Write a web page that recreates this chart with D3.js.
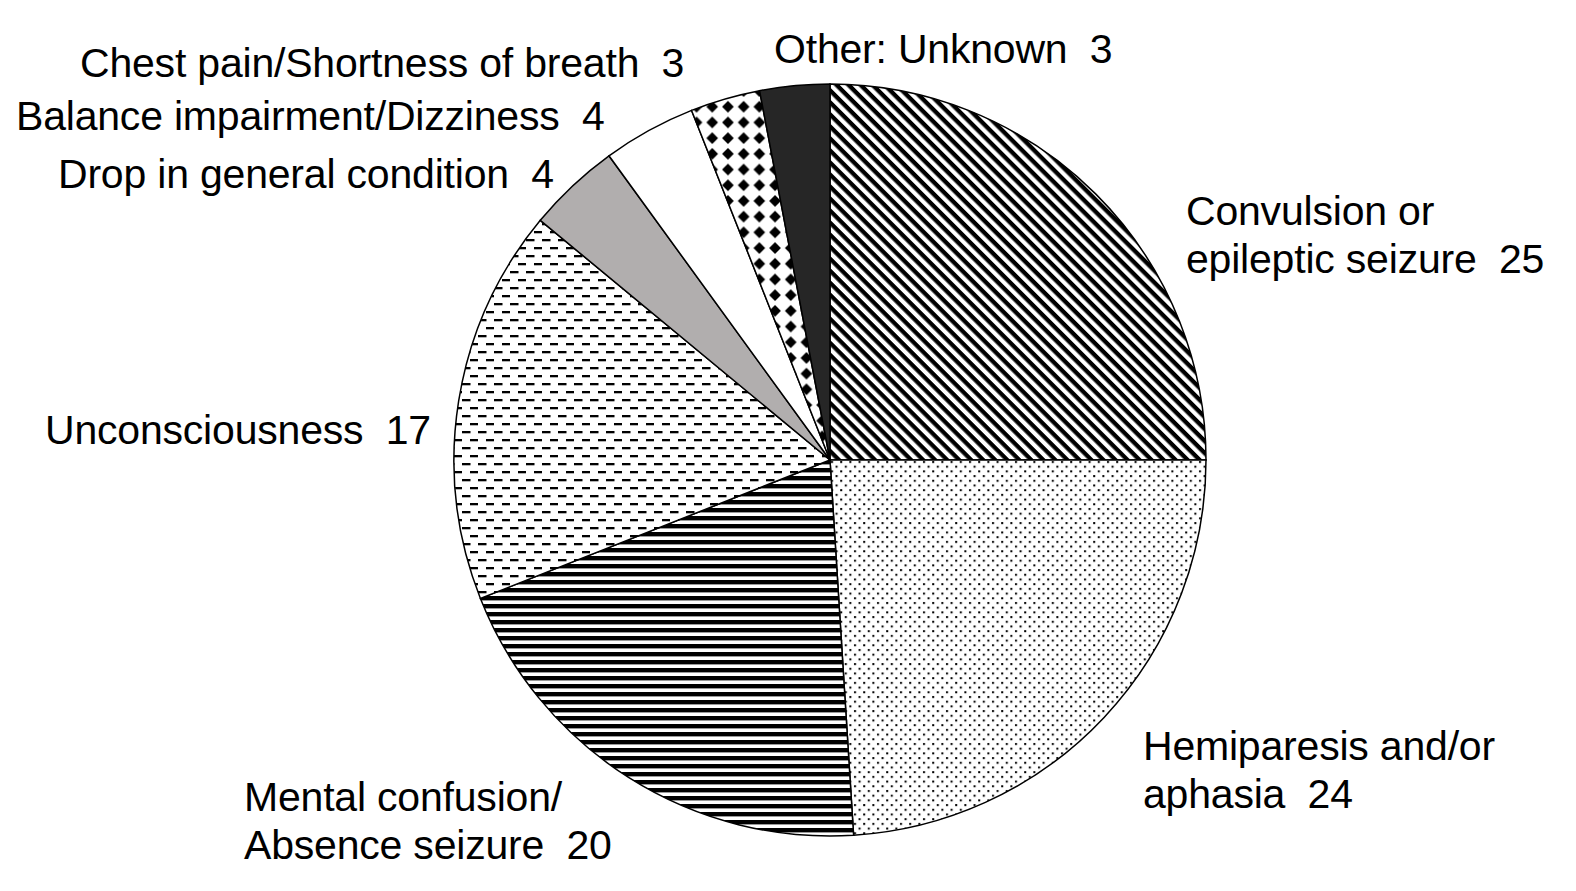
<!DOCTYPE html>
<html>
<head>
<meta charset="utf-8">
<script src="https://cdn.jsdelivr.net/npm/d3@7"></script>
<style>
  body { margin: 0; background: #fff; }
  svg text { font-family: "Liberation Sans", Arial, Helvetica, sans-serif; font-size: 41px; fill: #000; letter-spacing: -0.2px; }
</style>
</head>
<body>
<svg id="chart" width="1576" height="891"></svg>
<script>
// slices, clockwise from 12 o'clock
const categories = [
  ["Convulsion or", "epileptic seizure"],
  ["Hemiparesis and/or", "aphasia"],
  ["Mental confusion/", "Absence seizure"],
  ["Unconsciousness"],
  ["Drop in general condition"],
  ["Balance impairment/Dizziness"],
  ["Chest pain/Shortness of breath"],
  ["Other: Unknown"]
];
const values = [25, 24, 20, 17, 4, 4, 3, 3];
const fills = ["url(#diag)", "url(#dots)", "url(#hstripe)", "url(#dash)", "#b1aeae", "#ffffff", "url(#diamond)", "#262626"];

// label anchor (x, first baseline) for each slice
const labelPos = [
  [1186, 225], [1143, 760], [244, 811], [45, 444],
  [58, 188], [16, 130], [80, 77], [774, 63]
];

const cx = 830, cy = 460, r = 376;
const svg = d3.select("#chart");
const defs = svg.append("defs");

// diagonal stripes
const diag = defs.append("pattern").attr("id", "diag")
  .attr("patternUnits", "userSpaceOnUse").attr("width", 8.5).attr("height", 8.5)
  .attr("patternTransform", "rotate(45)");
diag.append("rect").attr("width", 8.5).attr("height", 8.5).attr("fill", "#fff");
diag.append("rect").attr("width", 8.5).attr("height", 4.3).attr("fill", "#000");

// dots
const dots = defs.append("pattern").attr("id", "dots")
  .attr("patternUnits", "userSpaceOnUse").attr("width", 9.2).attr("height", 9.4);
dots.append("rect").attr("width", 9.2).attr("height", 9.4).attr("fill", "#fff");
dots.append("rect").attr("x", 1).attr("y", 1).attr("width", 2).attr("height", 2).attr("fill", "#000");
dots.append("rect").attr("x", 5.6).attr("y", 5.7).attr("width", 2).attr("height", 2).attr("fill", "#000");

// horizontal stripes
const hs = defs.append("pattern").attr("id", "hstripe")
  .attr("patternUnits", "userSpaceOnUse").attr("width", 8).attr("height", 8);
hs.append("rect").attr("width", 8).attr("height", 8).attr("fill", "#fff");
hs.append("rect").attr("width", 8).attr("height", 4.4).attr("fill", "#000");

// dashes
const dash = defs.append("pattern").attr("id", "dash")
  .attr("patternUnits", "userSpaceOnUse").attr("width", 16).attr("height", 16);
dash.append("rect").attr("width", 16).attr("height", 16).attr("fill", "#fff");
dash.append("rect").attr("x", 0).attr("y", 3).attr("width", 8.5).attr("height", 2.3).attr("fill", "#000");
dash.append("rect").attr("x", 8).attr("y", 11).attr("width", 8.5).attr("height", 2.3).attr("fill", "#000");

// diamonds
const dia = defs.append("pattern").attr("id", "diamond")
  .attr("patternUnits", "userSpaceOnUse").attr("width", 15.7).attr("height", 15.7);
dia.append("rect").attr("width", 15.7).attr("height", 15.7).attr("fill", "#fff");
dia.append("path").attr("d", "M7.85,2 L13.7,7.85 L7.85,13.7 L2,7.85Z").attr("fill", "#000");

const pie = d3.pie().sort(null).value(d => d);
const arc = d3.arc().innerRadius(0).outerRadius(r);

const g = svg.append("g").attr("transform", `translate(${cx},${cy})`);
g.selectAll("path.slice")
  .data(pie(values))
  .enter()
  .append("path")
  .classed("slice", true)
  .attr("d", arc)
  .attr("fill", (d, i) => fills[i])
  .attr("stroke", "#000")
  .attr("stroke-width", 1.5);

const labels = svg.selectAll("text.label")
  .data(categories)
  .enter()
  .append("text")
  .classed("label", true)
  .attr("xml:space", "preserve")
  .attr("x", (d, i) => labelPos[i][0])
  .attr("y", (d, i) => labelPos[i][1]);

labels.each(function (lines, i) {
  const t = d3.select(this);
  lines.forEach((line, j) => {
    const last = j === lines.length - 1;
    t.append("tspan")
      .attr("x", labelPos[i][0])
      .attr("dy", j === 0 ? 0 : 48)
      .style("white-space", "pre")
      .text(last ? line + "  " + values[i] : line);
  });
});
</script>
</body>
</html>
